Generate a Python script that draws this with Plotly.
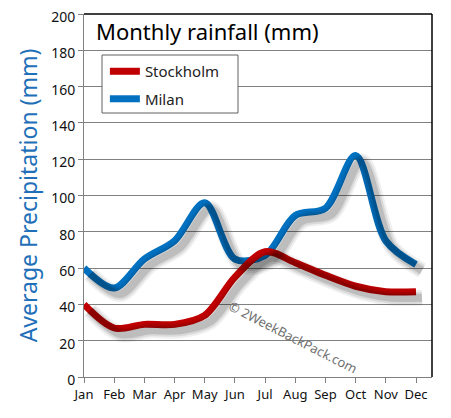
import plotly.graph_objects as go

months = ["Jan", "Feb", "Mar", "Apr", "May", "Jun", "Jul", "Aug", "Sep", "Oct", "Nov", "Dec"]
stockholm = [40, 27, 29, 29, 34, 55, 69, 63, 56, 50, 47, 47]
milan = [60, 49, 65, 75, 96, 65, 67, 89, 93, 122, 75, 62]
y_ticks = [0, 20, 40, 60, 80, 100, 120, 140, 160, 180, 200]

RED = "#C00000"
BLUE = "#0070C0"
FONT = "Noto Sans"

PAGE_OFF = 8  # default body margin of the html page
W, H = 451 - PAGE_OFF, 418 - PAGE_OFF
L, R, T, B = 84 - PAGE_OFF, 19, 14 - PAGE_OFF, 41
plot_w = W - L - R
plot_h = H - T - B
x_max = 11.53
y_max = 200
dx = 6 * x_max / plot_w   # shadow offset in data units
dy = 6 * y_max / plot_h

fig = go.Figure()

def shadow(vals):
    for w, op in [(16, 0.06), (12, 0.09), (8, 0.13)]:
        fig.add_trace(go.Scatter(
            x=months, y=vals, xaxis="x2", yaxis="y2", mode="lines",
            line=dict(color=f"rgba(0,0,0,{op})", width=w, shape="spline", smoothing=0.9),
            showlegend=False, hoverinfo="skip"))

shadow(milan)
fig.add_trace(go.Scatter(x=months, y=milan, name="Milan", mode="lines",
                         line=dict(color=BLUE, width=7, shape="spline", smoothing=0.9),
                         legendrank=2, legendgroup="m"))
shadow(stockholm)
fig.add_trace(go.Scatter(x=months, y=stockholm, name="Stockholm", mode="lines",
                         line=dict(color=RED, width=7, shape="spline", smoothing=0.9),
                         legendrank=1, legendgroup="s"))

fig.update_layout(
    width=W, height=H,
    margin=dict(l=L, r=R, t=T, b=B, autoexpand=False),
    paper_bgcolor="white", plot_bgcolor="white",
    font=dict(family=FONT, color="#111111"),
    xaxis=dict(type="category", range=[0, x_max], showgrid=False, automargin=False,
               showline=True, linecolor="#808080", linewidth=1,
               ticks="outside", ticklen=5, tickcolor="#808080",
               ticklabeloverflow="allow",
               tickfont=dict(size=13, family=FONT), zeroline=False),
    yaxis=dict(range=[0, y_max], tickvals=y_ticks, showgrid=True, automargin=False,
               gridcolor="#808080", gridwidth=1,
               showline=True, linecolor="#808080", linewidth=1,
               ticks="outside", ticklen=5, tickcolor="#808080",
               ticklabeloverflow="allow", ticklabelshift=3,
               tickfont=dict(size=14, family=FONT), zeroline=False,
               title=dict(text="Average Precipitation (mm)",
                          font=dict(size=23, color="#1F70B8", family=FONT),
                          standoff=7)),
    xaxis2=dict(type="category", range=[-dx, x_max - dx], overlaying="x",
                visible=False, automargin=False),
    yaxis2=dict(range=[dy, y_max + dy], overlaying="y", visible=False, automargin=False),
    legend=dict(x=0.06, y=0.887, xanchor="left", yanchor="top",
                borderwidth=0, bgcolor="rgba(0,0,0,0)",
                font=dict(size=15, family=FONT, color="#222222"),
                itemwidth=30, tracegroupgap=5),
    showlegend=True,
)

# legend frame
fig.add_shape(type="rect", xref="paper", yref="paper",
              x0=(102 - 84) / 348, x1=(238 - 84) / 348,
              y0=(377 - 113) / 363, y1=(377 - 55) / 363,
              fillcolor="white", line=dict(color="#606060", width=1), layer="above")

fig.add_annotation(text="Monthly rainfall (mm)", xref="paper", yref="paper",
                   x=0.03, y=1.0, xanchor="left", yanchor="top",
                   showarrow=False, font=dict(size=22, color="black", family=FONT))
fig.add_annotation(text="© 2WeekBackPack.com", xref="paper", yref="paper",
                   x=0.60, y=0.11, xanchor="center", yanchor="middle",
                   showarrow=False, textangle=27,
                   font=dict(size=13, color="#707070", family=FONT))

fig.add_shape(type="line", xref="paper", yref="paper", x0=0, x1=1, y0=1, y1=1,
              line=dict(color="black", width=1.5))
fig.add_shape(type="line", xref="paper", yref="paper", x0=1, x1=1, y0=0, y1=1,
              line=dict(color="black", width=1.5))

fig.write_html("out.html")
